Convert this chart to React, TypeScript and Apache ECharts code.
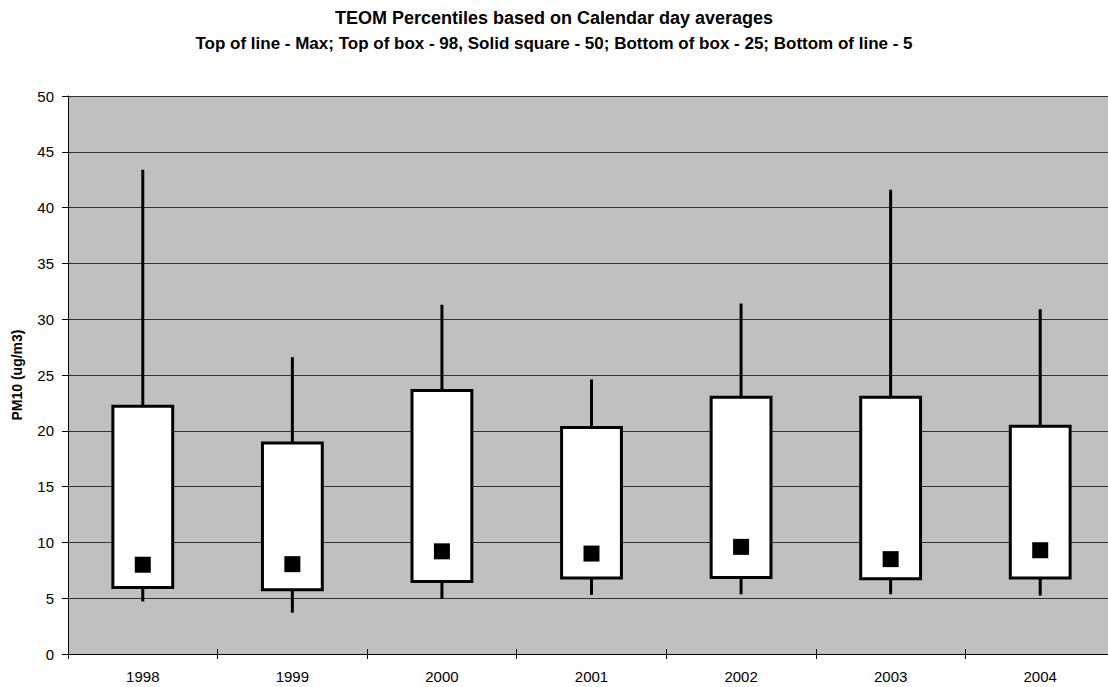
import React, { useEffect, useRef } from "react";
import * as echarts from "echarts";

const categories = ["1998", "1999", "2000", "2001", "2002", "2003", "2004"];
const maxValues = [43.4, 26.6, 31.3, 24.6, 31.4, 41.6, 30.9];
const p98Values = [22.2, 18.9, 23.6, 20.3, 23.0, 23.0, 20.4];
const p50Values = [8.0, 8.05, 9.2, 9.0, 9.6, 8.5, 9.3];
const p25Values = [5.95, 5.75, 6.5, 6.8, 6.85, 6.75, 6.8];
const p5Values = [4.7, 3.7, 4.95, 5.3, 5.35, 5.35, 5.25];
const yTicks = [0, 5, 10, 15, 20, 25, 30, 35, 40, 45, 50];

const FONT = "'Liberation Sans', Arial, sans-serif";

export default function App() {
  const ref = useRef<HTMLDivElement>(null);
  useEffect(() => {
    if (!ref.current) return;
    const chart = echarts.init(ref.current, null, { renderer: "svg" });
    const boxData = categories.map((_, i) => [i, p5Values[i], p25Values[i], p98Values[i], maxValues[i]]);
    chart.setOption({
      animation: false,
      backgroundColor: "#fff",
      title: [
        {
          text: "TEOM Percentiles based on Calendar day averages",
          left: "center",
          top: 4,
          textStyle: { fontFamily: FONT, fontSize: 18, fontWeight: "bold", color: "#000" },
        },
        {
          text: "Top of line - Max; Top of box - 98, Solid square - 50; Bottom of box - 25; Bottom of line - 5",
          left: "center",
          top: 30,
          textStyle: { fontFamily: FONT, fontSize: 17, fontWeight: "bold", color: "#000" },
        },
      ],
      grid: {
        left: 68,
        right: -7,
        top: 96,
        bottom: 33,
        show: true,
        backgroundColor: "#c0c0c0",
        borderWidth: 0,
        containLabel: false,
        outerBoundsMode: "none",
      },
      xAxis: [
        {
          type: "category",
          data: categories,
          position: "bottom",
          boundaryGap: true,
          axisLine: { show: true, lineStyle: { color: "#000", width: 1 } },
          axisTick: { show: true, length: 5, lineStyle: { color: "#000" } },
          axisLabel: { fontFamily: FONT, fontSize: 15, color: "#000", margin: 15 },
          splitLine: { show: false },
        },
        {
          type: "category",
          data: categories,
          position: "bottom",
          boundaryGap: true,
          axisLine: { show: false },
          axisTick: { show: true, inside: true, length: 5, lineStyle: { color: "#000" } },
          axisLabel: { show: false },
          splitLine: { show: false },
        },
      ],
      yAxis: {
        type: "value",
        min: yTicks[0],
        max: yTicks[yTicks.length - 1],
        interval: 5,
        name: "PM10 (ug/m3)",
        nameLocation: "middle",
        nameGap: 44,
        nameTextStyle: { fontFamily: FONT, fontSize: 14, fontWeight: "bold", color: "#000" },
        axisLine: { show: true, lineStyle: { color: "#000", width: 1 } },
        axisTick: { show: true, length: 6, lineStyle: { color: "#000" } },
        axisLabel: { fontFamily: FONT, fontSize: 15, color: "#000", margin: 14 },
        splitLine: { show: true, lineStyle: { color: "#333", width: 1 } },
      },
      series: [
        {
          type: "custom",
          data: boxData,
          encode: { x: 0, y: [1, 2, 3, 4] },
          z: 3,
          renderItem: (params: any, api: any) => {
            const i = api.value(0);
            const pLow = api.coord([i, api.value(1)]);
            const pQ1 = api.coord([i, api.value(2)]);
            const pQ3 = api.coord([i, api.value(3)]);
            const pMax = api.coord([i, api.value(4)]);
            const w = api.size([1, 0])[0] * 0.4;
            return {
              type: "group",
              children: [
                {
                  type: "line",
                  shape: { x1: pLow[0], y1: pLow[1], x2: pMax[0], y2: pMax[1] },
                  style: { stroke: "#000", lineWidth: 3 },
                },
                {
                  type: "rect",
                  shape: { x: pQ3[0] - w / 2, y: pQ3[1], width: w, height: pQ1[1] - pQ3[1] },
                  style: { fill: "#fff", stroke: "#000", lineWidth: 3 },
                },
              ],
            };
          },
        },
        {
          type: "scatter",
          data: p50Values,
          symbol: "rect",
          symbolSize: 16,
          z: 5,
          itemStyle: { color: "#000", opacity: 1 },
        },
      ],
    });
    return () => chart.dispose();
  }, []);
  return (
    <div
      ref={ref}
      style={{ position: "fixed", left: 0, top: 0, width: 1108, height: 687 }}
    />
  );
}
